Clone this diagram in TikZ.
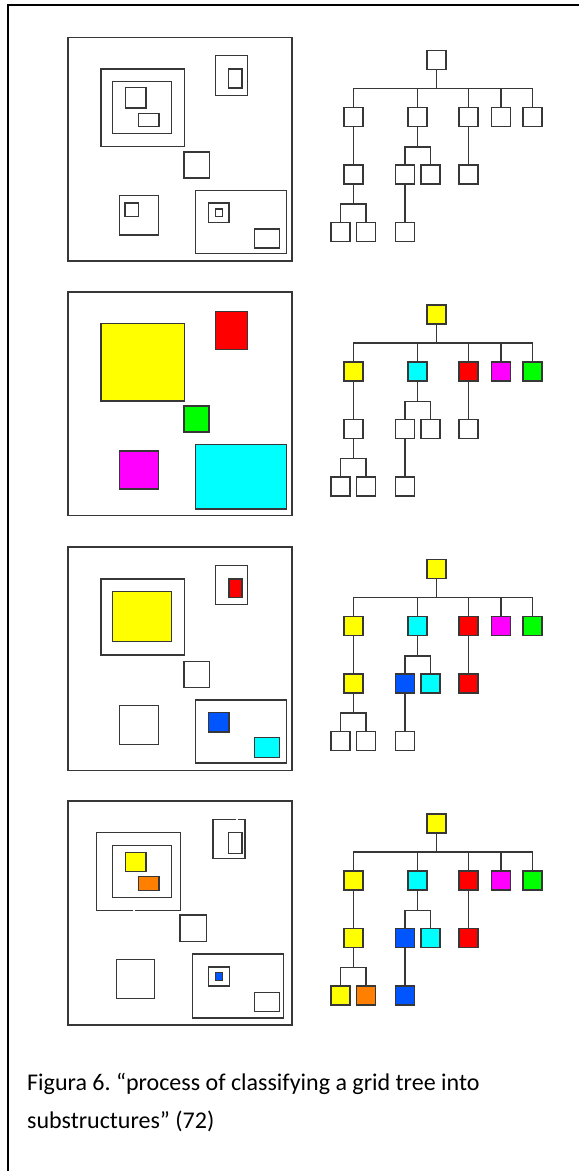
\documentclass[tikz,border=0pt]{standalone}
\usepackage{fontspec}
\setmainfont{Carlito}
\frenchspacing
\definecolor{edgegray}{RGB}{55,55,55}
\definecolor{cyel}{RGB}{255,255,0}
\definecolor{cred}{RGB}{255,0,0}
\definecolor{cgreen}{RGB}{0,255,0}
\definecolor{cmag}{RGB}{255,0,255}
\definecolor{ccyan}{RGB}{0,255,255}
\definecolor{cblue}{RGB}{0,85,255}
\definecolor{corange}{RGB}{255,128,0}
\tikzset{
    capt/.style={
        font=\fontsize{24}{29}\selectfont, anchor=base west, inner sep=0pt
    }
}

\begin{document}
\begin{tikzpicture}[x=1pt,y=-1pt, line join=miter]

% box + link styles
\tikzset{
  frame/.style={draw=black, line width=1.5pt},
  panel/.style={draw=edgegray, line width=1.7pt},
  box/.style={draw=edgegray, line width=1.5pt},
  tbox/.style={rectangle, draw=edgegray, line width=1.5pt, minimum size=19pt, inner sep=0pt},
  link/.style={draw=edgegray, line width=1.5pt},
}

  \useasboundingbox (0,0) rectangle (579,1171);

  % page frame
  \draw[frame] (8,1171) -- (8,5) -- (579,5);

  % panel 1: the plain grid
  \draw[panel] (68,37.5) rectangle (292,261);
  \draw[box] (101,69) rectangle (184.5,146.5);
  \draw[box] (112.5,81.5) rectangle (171.5,133.5);
  \draw[box] (125.5,87.5) rectangle (146,108);
  \draw[box] (138.5,113.5) rectangle (159,126.5);
  \draw[box] (215.5,55.5) rectangle (247.5,95.5);
  \draw[box] (228.5,69) rectangle (242,88);
  \draw[box] (184,152) rectangle (209.5,178);
  \draw[box] (119.5,195.5) rectangle (158.5,235);
  \draw[box] (125,203) rectangle (138.5,216.5);
  \draw[box] (195.5,190.5) rectangle (286.5,253.5);
  \draw[box] (208.5,203) rectangle (229,222.5);
  \draw[box] (215.5,209) rectangle (222.5,216.5);
  \draw[box] (254.5,229) rectangle (279.5,248);

  % panel 2: first level
  \begin{scope}[shift={(0,254.5)}]
    \draw[panel] (68,37.5) rectangle (292,261);
    \draw[box, fill=cyel] (101,69) rectangle (184.5,146.5);
    \draw[box, fill=cred] (215.5,57) rectangle (247.5,95);
    \draw[box, fill=cgreen] (184,151.5) rectangle (209,177.5);
    \draw[box, fill=cmag] (119.5,196.5) rectangle (158.5,234.5);
    \draw[box, fill=ccyan] (195.5,190) rectangle (286.5,254.5);
  \end{scope}

  % panel 3: second level
  \begin{scope}[shift={(0,509)}]
    \draw[panel] (68,38) rectangle (292,261.5);
    \draw[box] (101,70) rectangle (184.5,146);
    \draw[box, fill=cyel] (112.5,82.5) rectangle (171.5,132.5);
    \draw[box] (215.5,56.5) rectangle (247.5,95.5);
    \draw[box, fill=cred] (229,70) rectangle (242,88.5);
    \draw[box] (184,152.5) rectangle (209.5,178.5);
    \draw[box] (119.5,196.5) rectangle (158.5,235.5);
    \draw[box] (195.5,191) rectangle (286.5,254);
    \draw[box, fill=cblue] (208.5,203.5) rectangle (229,223);
    \draw[box, fill=ccyan] (254.5,228.5) rectangle (279.5,248.5);
  \end{scope}

  % panel 4: third level
  \begin{scope}[shift={(0,763.5)}]
    \draw[panel] (68,37.5) rectangle (292,261.5);
    \draw[box] (96.5,69) rectangle (180.5,147);
    \draw[box] (112.5,82) rectangle (171.5,134);
    \draw[box, fill=cyel] (125.5,89) rectangle (146,108);
    \draw[box, fill=corange] (138.5,113) rectangle (159,127);
    \draw[box] (213,56) rectangle (245,95);
    \draw[box] (228.5,69) rectangle (242,90);
    \draw[box] (180,151.5) rectangle (206.5,178);
    \draw[box] (116.5,196) rectangle (154.5,235);
    \draw[box] (192.5,190.5) rectangle (283.5,254.5);
    \draw[box] (208.5,203.5) rectangle (229.5,222.5);
    \draw[box, fill=cblue] (215.5,209) rectangle (222.5,217);
    \draw[box] (254.5,229) rectangle (279.5,248);
    % small breaks in the lines
    \fill[white] (235.5,54.5) rectangle (237.5,57.5);
    \fill[white] (132.5,145.5) rectangle (134.5,148.5);
  \end{scope}

  % trees
  \foreach \idx/\dy/\ka/\kb/\kc/\kd/\ke/\kf/\kg/\kh/\ki/\kj/\kl/\km/\kn in {
      1/0/white/white/white/white/white/white/white/white/white/white/white/white/white,
      2/254.5/cyel/cyel/ccyan/cred/cmag/cgreen/white/white/white/white/white/white/white,
      3/509/cyel/cyel/ccyan/cred/cmag/cgreen/cyel/cblue/ccyan/cred/white/white/white,
      4/763.5/cyel/cyel/ccyan/cred/cmag/cgreen/cyel/cblue/ccyan/cred/cyel/corange/cblue}{
  \begin{scope}[shift={(0,\dy)}]
    % nodes
    \node[tbox, fill=\ka] (r\idx) at (436.7,60.2) {};
    \node[tbox, fill=\kb] (a1\idx) at (353.3,117.2) {};
    \node[tbox, fill=\kc] (a2\idx) at (417.7,117.2) {};
    \node[tbox, fill=\kd] (a3\idx) at (468.7,117.2) {};
    \node[tbox, fill=\ke] (a4\idx) at (501,117.2) {};
    \node[tbox, fill=\kf] (a5\idx) at (532.7,117.2) {};
    \node[tbox, fill=\kg] (b1\idx) at (353.3,174.3) {};
    \node[tbox, fill=\kh] (b2\idx) at (405,174.3) {};
    \node[tbox, fill=\ki] (b3\idx) at (430.7,174.3) {};
    \node[tbox, fill=\kj] (b4\idx) at (468.7,174.3) {};
    \node[tbox, fill=\kl] (c1\idx) at (340.3,231.8) {};
    \node[tbox, fill=\km] (c2\idx) at (366,231.8) {};
    \node[tbox, fill=\kn] (c3\idx) at (405,231.8) {};

    % links
    \foreach \ch in {a1,a2,a3,a4,a5}
      \draw[link] (r\idx.south) -- ++(0,18) -| (\ch\idx.north);
    \draw[link] (a1\idx) -- (b1\idx);
    \draw[link] (a2\idx.south) -- ++(0,19.3) -| (b2\idx.north);
    \draw[link] (a2\idx.south) -- ++(0,19.3) -| (b3\idx.north);
    \draw[link] (a3\idx) -- (b4\idx);
    \draw[link] (b1\idx.south) -- ++(0,19.5) -| (c1\idx.north);
    \draw[link] (b1\idx.south) -- ++(0,19.5) -| (c2\idx.north);
    \draw[link] (b2\idx) -- (c3\idx);
  \end{scope}
  }

  % caption
  \node[capt] (cap1) at (27,1090) {Figura 6. “process of classifying a grid tree into};
  \node[capt] (cap2) at (27,1128) {substructures” (72)};

\end{tikzpicture}
\end{document}
